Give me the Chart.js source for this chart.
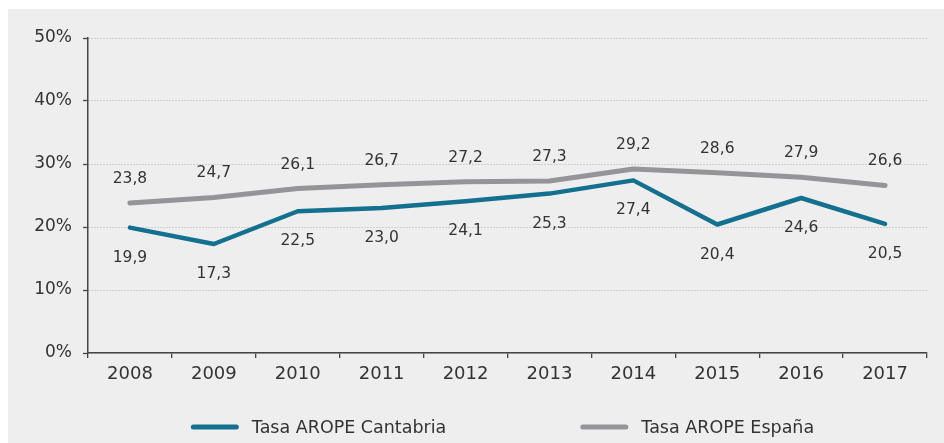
<!DOCTYPE html>
<html><head><meta charset="utf-8">
<script src="https://cdn.jsdelivr.net/npm/chart.js@4"></script>
<style>
html,body{margin:0;padding:0;background:#ffffff;}
#wrap{position:absolute;left:8px;top:9px;width:936px;height:434px;background:#eeeeee;}
canvas{display:block;}
</style></head><body>
<div id="wrap"><canvas id="c" width="936" height="434"></canvas></div>
<script>
const years = ['2008','2009','2010','2011','2012','2013','2014','2015','2016','2017'];
const cantabria = [19.9,17.3,22.5,23.0,24.1,25.3,27.4,20.4,24.6,20.5];
const espana = [23.8,24.7,26.1,26.7,27.2,27.3,29.2,28.6,27.9,26.6];
const seriesNames = ['Tasa AROPE Cantabria','Tasa AROPE España'];
const seriesColors = ['#13708f','#959599'];
const yMin = 0, yMax = 50, yStep = 10;

const FONT = '"DejaVu Sans", sans-serif';
const TEXT = '#333333';

const valueLabels = {
  id:'valueLabels',
  afterDatasetsDraw(chart, args, opts){
    const ctx = chart.ctx;
    ctx.save();
    ctx.font = opts.font;
    ctx.fillStyle = opts.color;
    ctx.textAlign = 'center';
    ctx.textBaseline = 'middle';
    chart.data.datasets.forEach((ds,i)=>{
      const meta = chart.getDatasetMeta(i);
      const off = opts.offsets[i];
      meta.data.forEach((pt,j)=>{
        ctx.fillText(ds.data[j].toFixed(1).replace('.',','), pt.x, pt.y + off);
      });
    });
    ctx.restore();
  }
};

const lineLegend = {
  id:'lineLegend',
  afterDraw(chart, args, opts){
    const ctx = chart.ctx;
    ctx.save();
    ctx.font = opts.font;
    ctx.textBaseline = 'middle';
    ctx.textAlign = 'left';
    const items = chart.data.datasets.map(ds=>({text:ds.label,color:ds.borderColor,w:ctx.measureText(ds.label).width}));
    let total = 0;
    items.forEach((it,i)=>{ total += opts.lineLen + opts.textGap + it.w; if(i>0) total += opts.itemGap; });
    const ca = chart.chartArea;
    let x = (ca.left + ca.right)/2 + opts.shift - total/2;
    const y = opts.y;
    items.forEach(it=>{
      ctx.strokeStyle = it.color;
      ctx.lineWidth = opts.lineWidth;
      ctx.lineCap = 'round';
      ctx.beginPath();
      ctx.moveTo(x + opts.lineWidth/2, y);
      ctx.lineTo(x + opts.lineLen - opts.lineWidth/2, y);
      ctx.stroke();
      ctx.fillStyle = opts.color;
      ctx.fillText(it.text, x + opts.lineLen + opts.textGap, y + 1);
      x += opts.lineLen + opts.textGap + it.w + opts.itemGap;
    });
    ctx.restore();
  }
};

new Chart(document.getElementById('c'), {
  type:'line',
  data:{
    labels: years,
    datasets:[
      {label: seriesNames[0], data: cantabria, borderColor: seriesColors[0], backgroundColor: seriesColors[0],
       borderWidth:4.5, pointRadius:0, tension:0, borderCapStyle:'round', borderJoinStyle:'round', fill:false},
      {label: seriesNames[1], data: espana, borderColor: seriesColors[1], backgroundColor: seriesColors[1],
       borderWidth:5, pointRadius:0, tension:0, borderCapStyle:'round', borderJoinStyle:'round', fill:false}
    ]
  },
  options:{
    responsive:false,
    animation:false,
    layout:{padding:{top:29,right:17,bottom:50,left:0}},
    plugins:{
      legend:{display:false},
      tooltip:{enabled:false},
      valueLabels:{font:'15.5px '+FONT, color:TEXT, offsets:[30,-24]},
      lineLegend:{font:'17.5px '+FONT, color:TEXT, lineLen:48, lineWidth:5, textGap:13, itemGap:134, shift:-5, y:418}
    },
    scales:{
      x:{
        offset:true,
        grid:{display:true, offset:true, drawOnChartArea:false, drawTicks:true, tickLength:5, tickColor:'#444444', tickWidth:1.3, lineWidth:1.3, color:'#444444'},
        border:{display:true, color:'#444444', width:1.5},
        ticks:{font:{family:FONT, size:18}, color:TEXT, padding:6, maxRotation:0, autoSkip:false},
        afterFit(s){ s.height = 40; }
      },
      y:{
        min:yMin, max:yMax,
        grid:{display:true, color:'#b0b0b0', lineWidth:1, tickLength:5, tickColor:'#444444', tickWidth:1.3, tickBorderDash:[]},
        border:{display:true, color:'#444444', width:1.5, dash:[1,2]},
        ticks:{stepSize:yStep, font:{family:FONT, size:17}, color:TEXT, padding:11, callback:v=>v+'%'},
        afterFit(s){ s.width = 80; }
      }
    }
  },
  plugins:[valueLabels, lineLegend]
});
</script>
</body></html>
